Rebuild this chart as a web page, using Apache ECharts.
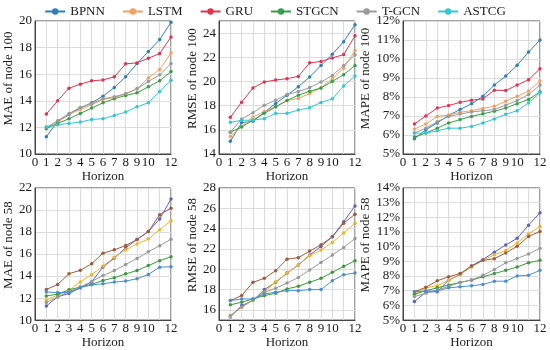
<!DOCTYPE html>
<html>
<head>
<meta charset="utf-8">
<script src="https://cdn.jsdelivr.net/npm/echarts@6/dist/echarts.min.js"></script>
<style>html,body{margin:0;padding:0;background:#fff;}#c{width:550px;height:350px;}</style>
</head>
<body>
<div id="c"></div>
<script>
// ---- data ----
const models = ['BPNN', 'LSTM', 'GRU', 'STGCN', 'T-GCN', 'ASTCG'];
const horizons = [1, 2, 3, 4, 5, 6, 7, 8, 9, 10, 11, 12];
const xTicks = [0, 1, 2, 3, 4, 5, 6, 7, 8, 9, 10, 11, 12];

// rows in model order: BPNN, LSTM, GRU, STGCN, T-GCN, ASTCG
const mae100 = [
  [11.3, 12.45, 12.95, 13.45, 13.85, 14.35, 15.0, 15.8, 16.8, 17.7, 18.6, 19.9],
  [11.95, 12.4, 13.0, 13.35, 13.7, 14.1, 14.25, 14.5, 14.9, 15.72, 16.35, 17.6],
  [13.0, 14.0, 14.95, 15.25, 15.5, 15.57, 15.8, 16.78, 16.85, 17.2, 17.55, 18.8],
  [11.9, 12.3, 12.65, 13.05, 13.45, 13.85, 14.15, 14.4, 14.6, 15.05, 15.5, 16.2],
  [12.0, 12.5, 13.05, 13.5, 13.8, 14.15, 14.3, 14.55, 14.9, 15.45, 15.95, 16.8],
  [12.05, 12.2, 12.3, 12.4, 12.6, 12.65, 12.9, 13.15, 13.55, 13.85, 14.7, 15.55]
];
const rmse100 = [
  [15.05, 16.6, 16.7, 17.45, 18.18, 18.86, 19.57, 20.37, 21.32, 22.25, 23.29, 24.7],
  [15.45, 16.27, 17.06, 17.5, 17.9, 18.43, 18.59, 19.0, 19.46, 20.23, 21.1, 22.55],
  [17.03, 18.29, 19.46, 19.96, 20.12, 20.23, 20.42, 21.54, 21.65, 21.95, 22.22, 23.78],
  [15.8, 16.24, 16.8, 17.36, 17.9, 18.43, 18.86, 19.19, 19.46, 20.0, 20.56, 21.32],
  [15.8, 16.9, 17.42, 18.04, 18.45, 18.92, 19.16, 19.49, 19.96, 20.5, 21.32, 22.2],
  [16.62, 16.79, 16.8, 16.92, 17.36, 17.36, 17.63, 17.83, 18.26, 18.56, 19.63, 20.45]
];
const mape100 = [
  [5.8, 6.28, 6.63, 7.04, 7.34, 7.64, 8.04, 8.63, 9.1, 9.67, 10.37, 11.0],
  [6.31, 6.58, 6.98, 7.05, 7.2, 7.28, 7.4, 7.51, 7.78, 8.04, 8.31, 8.84],
  [6.58, 7.0, 7.42, 7.55, 7.72, 7.83, 7.9, 8.36, 8.34, 8.63, 8.91, 9.49],
  [5.89, 6.1, 6.36, 6.63, 6.81, 6.98, 7.12, 7.25, 7.42, 7.65, 7.87, 8.27],
  [6.1, 6.36, 6.7, 6.98, 7.1, 7.21, 7.28, 7.34, 7.57, 7.81, 8.13, 8.63],
  [6.1, 6.1, 6.22, 6.36, 6.36, 6.45, 6.63, 6.84, 7.09, 7.28, 7.69, 8.22]
];
const mae58 = [
  [11.28, 12.12, 12.42, 12.93, 13.47, 14.82, 15.63, 16.56, 17.32, 18.04, 19.18, 21.0],
  [11.82, 12.27, 12.72, 13.47, 14.13, 14.91, 15.72, 16.38, 16.92, 17.37, 18.21, 19.03],
  [12.78, 13.23, 14.22, 14.52, 15.12, 16.08, 16.38, 16.77, 17.32, 18.04, 19.57, 20.17],
  [12.2, 12.35, 12.75, 13.0, 13.25, 13.6, 13.85, 14.2, 14.5, 14.95, 15.4, 15.75],
  [11.6, 12.1, 12.6, 13.0, 13.5, 14.05, 14.5, 15.05, 15.6, 16.2, 16.75, 17.35],
  [12.55, 12.5, 12.5, 12.95, 13.2, 13.3, 13.45, 13.55, 13.75, 14.15, 14.8, 14.85]
];
const rmse58 = [
  [15.3, 16.43, 16.92, 18.0, 18.72, 19.63, 20.42, 21.4, 22.25, 23.2, 24.67, 26.24],
  [15.35, 16.27, 16.92, 17.74, 18.78, 19.63, 20.42, 21.33, 21.89, 22.64, 23.56, 24.54],
  [16.92, 17.41, 18.72, 19.11, 19.86, 21.0, 21.14, 21.79, 22.41, 23.2, 24.54, 25.42],
  [16.5, 16.76, 17.08, 17.41, 17.64, 18.07, 18.33, 18.72, 19.11, 19.7, 20.29, 20.84],
  [15.45, 16.3, 17.0, 17.74, 18.13, 18.65, 19.2, 19.93, 20.68, 21.4, 22.15, 23.03],
  [16.92, 17.08, 17.08, 17.57, 17.74, 17.9, 17.9, 18.0, 18.0, 18.88, 19.47, 19.63]
];
const mape58 = [
  [6.26, 6.9, 6.94, 7.72, 8.1, 8.69, 9.13, 9.63, 10.12, 10.57, 11.47, 12.32],
  [6.76, 7.2, 7.34, 7.72, 8.1, 8.62, 9.07, 9.45, 9.74, 10.26, 10.86, 11.38],
  [6.94, 7.23, 7.68, 7.95, 8.17, 8.69, 9.07, 9.18, 9.58, 10.03, 10.7, 11.04],
  [6.76, 7.0, 7.2, 7.39, 7.57, 7.72, 7.95, 8.17, 8.39, 8.62, 8.91, 9.07],
  [6.6, 6.83, 7.05, 7.3, 7.55, 7.75, 8.05, 8.45, 8.9, 9.2, 9.5, 9.9],
  [6.94, 6.98, 6.98, 7.2, 7.27, 7.34, 7.43, 7.65, 7.65, 8.01, 8.06, 8.39]
];

// y-axis tick labels per panel
const yTicksMae100 = [10, 12, 14, 16, 18, 20];
const yTicksRmse100 = [14, 16, 18, 20, 22, 24];
const yTicksMape100 = [5, 6, 7, 8, 9, 10, 11, 12];
const yTicksMae58 = [10, 12, 14, 16, 18, 20, 22];
const yTicksRmse58 = [16, 18, 20, 22, 24, 26, 28];
const yTicksMape58 = [5, 6, 7, 8, 9, 10, 11, 12, 13, 14];

// ---- styles ----
const topColors = ['#2f7fba', '#f5a05e', '#e0344f', '#35a048', '#9a9a9a', '#33c6d3'];
const botColors = ['#5a63c8', '#f0b428', '#a05c3c', '#3a9c3a', '#9a9a9a', '#4a8fd8'];
const FONT = 'Liberation Serif';
const TXT = '#1a1a1a';

const panels = [
  {data: mae100, name: 'MAE of node 100', min: 10, max: 20, interval: 2, ticks: yTicksMae100, pct: false, colors: topColors},
  {data: rmse100, name: 'RMSE of node 100', min: 14, max: 25, interval: 2, ticks: yTicksRmse100, pct: false, colors: topColors},
  {data: mape100, name: 'MAPE of node 100', min: 5, max: 12, interval: 1, ticks: yTicksMape100, pct: true, colors: topColors},
  {data: mae58, name: 'MAE of node 58', min: 10, max: 22, interval: 2, ticks: yTicksMae58, pct: false, colors: botColors},
  {data: rmse58, name: 'RMSE of node 58', min: 15, max: 28, interval: 1, ticks: yTicksRmse58, pct: false, colors: botColors, alt: true},
  {data: mape58, name: 'MAPE of node 58', min: 5, max: 14, interval: 1, ticks: yTicksMape58, pct: true, colors: botColors}
];

const gridPos = [
  {left: 35, top: 21, width: 136, height: 133},
  {left: 219, top: 21, width: 136, height: 133},
  {left: 403, top: 21, width: 137, height: 133},
  {left: 35, top: 188, width: 136, height: 134},
  {left: 219, top: 188, width: 136, height: 134},
  {left: 403, top: 188, width: 137, height: 134}
];

const grid = [], xAxis = [], yAxis = [], series = [];
panels.forEach((p, i) => {
  grid.push(Object.assign({show: true, borderColor: '#444', borderWidth: 1, backgroundColor: 'transparent'}, gridPos[i]));
  xAxis.push({
    type: 'value', gridIndex: i, min: xTicks[0], max: xTicks[xTicks.length - 1], interval: 1,
    name: 'Horizon', nameLocation: 'middle', nameGap: 13,
    nameTextStyle: {fontFamily: FONT, fontSize: 13, color: TXT},
    axisLine: {show: true, lineStyle: {color: '#444', width: 1}},
    axisTick: {show: false},
    axisLabel: {fontFamily: FONT, fontSize: 13, color: TXT, margin: 2, showMinLabel: true, showMaxLabel: true},
    splitLine: {show: true, lineStyle: {color: '#dcdcdc', width: 1}}
  });
  const tickSet = new Set(p.ticks);
  yAxis.push({
    type: 'value', gridIndex: i, min: p.min, max: p.max, interval: p.interval,
    name: p.name, nameLocation: 'middle', nameGap: 13, nameRotate: 90,
    nameTextStyle: {fontFamily: FONT, fontSize: 13, color: TXT, padding: [0, 0, 0, 18]},
    axisLine: {show: true, lineStyle: {color: '#444', width: 1}},
    axisTick: {show: false},
    axisLabel: {
      fontFamily: FONT, fontSize: 13, color: TXT, margin: 3,
      formatter: v => tickSet.has(v) ? (p.pct ? v + '%' : String(v)) : ''
    },
    splitLine: {show: true, lineStyle: {color: p.alt ? ['transparent', '#dcdcdc'] : '#dcdcdc', width: 1}}
  });
  p.data.forEach((vals, k) => {
    series.push({
      name: models[k], type: 'line', xAxisIndex: i, yAxisIndex: i,
      data: horizons.map((h, j) => [h, vals[j]]),
      symbol: 'circle', symbolSize: 3.5, showSymbol: true,
      lineStyle: {width: 1, color: p.colors[k]},
      itemStyle: {color: p.colors[k]},
      animation: false, silent: true
    });
  });
});

const chart = echarts.init(document.getElementById('c'), null, {renderer: 'canvas'});
chart.setOption({
  backgroundColor: '#fff',
  animation: false,
  legend: {
    data: models, top: 0, left: 'center', itemWidth: 20, itemHeight: 8, itemGap: 17,
    textStyle: {fontFamily: FONT, fontSize: 13, color: TXT}
  },
  grid, xAxis, yAxis, series
});
</script>
</body>
</html>
